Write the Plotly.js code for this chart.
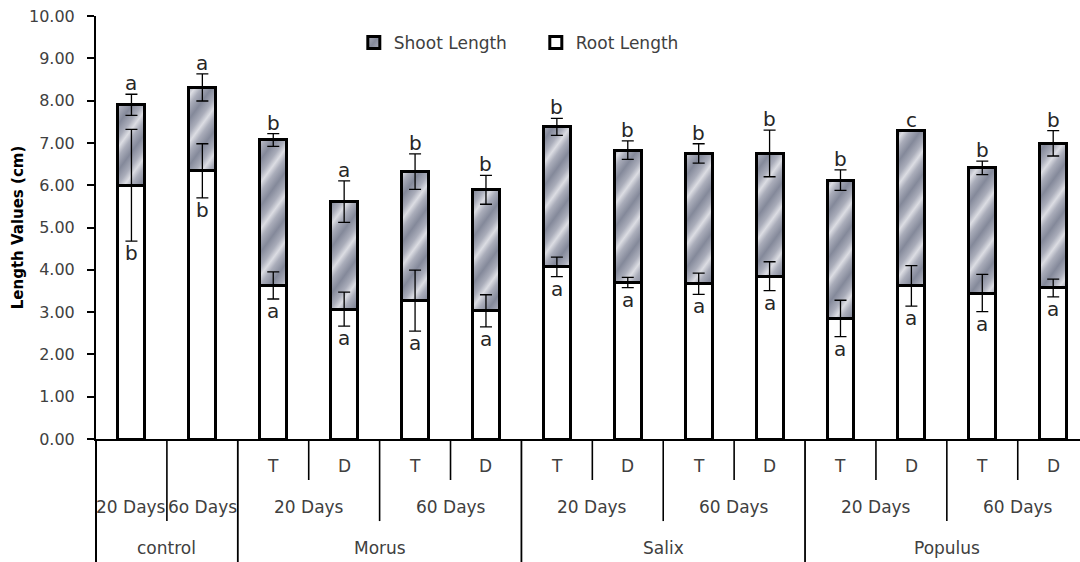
<!DOCTYPE html>
<html>
<head>
<meta charset="utf-8">
<script src="https://cdn.plot.ly/plotly-3.0.1.min.js"></script>
<style>
html,body{margin:0;padding:0;background:#fff;}
#chart{width:1080px;height:562px;}
</style>
</head>
<body>
<svg width="0" height="0" style="position:absolute;left:0;top:0;">
  <defs>
    <linearGradient id="shootGrad" gradientUnits="userSpaceOnUse" x1="0" y1="0" x2="22" y2="16" spreadMethod="reflect">
      <stop offset="0" stop-color="rgb(132,137,154)"/>
      <stop offset="0.3" stop-color="rgb(170,173,186)"/>
      <stop offset="0.5" stop-color="rgb(220,221,227)"/>
      <stop offset="0.7" stop-color="rgb(170,173,186)"/>
      <stop offset="1" stop-color="rgb(132,137,154)"/>
    </linearGradient>
  </defs>
</svg>
<div id="chart"></div>
<script>
// ---- data ----
const categories = [
  'control 20 Days', 'control 6o Days',
  'Morus 20 Days T', 'Morus 20 Days D', 'Morus 60 Days T', 'Morus 60 Days D',
  'Salix 20 Days T', 'Salix 20 Days D', 'Salix 60 Days T', 'Salix 60 Days D',
  'Populus 20 Days T', 'Populus 20 Days D', 'Populus 60 Days T', 'Populus 60 Days D'
];
const rootLength  = [6.00, 6.34, 3.63, 3.07, 3.27, 3.03, 4.07, 3.70, 3.67, 3.85, 2.85, 3.62, 3.45, 3.57];
const shootLength = [1.90, 1.97, 3.44, 2.54, 3.05, 2.86, 3.31, 3.13, 3.08, 2.90, 3.27, 3.67, 2.96, 3.42];
const rootErr     = [1.32, 0.64, 0.32, 0.40, 0.72, 0.38, 0.23, 0.12, 0.25, 0.34, 0.43, 0.48, 0.44, 0.21];
const shootErr    = [0.25, 0.32, 0.15, 0.49, 0.42, 0.34, 0.20, 0.22, 0.23, 0.55, 0.24, 0.00, 0.16, 0.30];
const shootLetters = ['a','a','b','a','b','b','b','b','b','b','b','c','b','b'];
const rootLetters  = ['b','b','a','a','a','a','a','a','a','a','a','a','a','a'];

const treatLabels = ['', '', 'T','D','T','D','T','D','T','D','T','D','T','D'];
const dayLabels   = ['20 Days','6o Days','20 Days','60 Days','20 Days','60 Days','20 Days','60 Days'];
const daySpans    = [[0,0],[1,1],[2,3],[4,5],[6,7],[8,9],[10,11],[12,13]];
const speciesLabels = ['control','Morus','Salix','Populus'];
const speciesSpans  = [[0,1],[2,5],[6,9],[10,13]];

// ---- style ----
const FONT = 'DejaVu Sans';
const TXT = '#404040';
const SHOOT_RGB = 'rgb(161, 165, 178)';
const Y_TD = -0.064, Y_DAY = -0.161, Y_SP = -0.258;
const B_TD = -0.097, B_DAY = -0.194, B_SP = -0.30;

const totals = rootLength.map((r, i) => r + shootLength[i]);

const traces = [
  {
    type: 'bar', name: 'Root Length', x: categories, y: rootLength,
    width: 0.38,
    marker: {color: '#ffffff', line: {color: '#000', width: 3}},
    hoverinfo: 'skip'
  },
  {
    type: 'bar', name: 'Shoot Length', x: categories, y: shootLength,
    width: 0.38,
    marker: {color: SHOOT_RGB, line: {color: '#000', width: 3}},
    hoverinfo: 'skip'
  },
  {
    type: 'scatter', mode: 'markers', x: categories, y: rootLength, showlegend: false,
    marker: {size: 1, color: 'rgba(0,0,0,0)'},
    error_y: {type: 'data', array: rootErr, visible: true, color: '#000', thickness: 1.3, width: 6},
    hoverinfo: 'skip'
  },
  {
    type: 'scatter', mode: 'markers', x: categories, y: totals, showlegend: false,
    marker: {size: 1, color: 'rgba(0,0,0,0)'},
    error_y: {type: 'data', array: shootErr, visible: true, color: '#000', thickness: 1.3, width: 6},
    hoverinfo: 'skip'
  }
];

const annotations = [];
const shapes = [];

// significance letters
categories.forEach((c, i) => {
  annotations.push({
    x: i, y: totals[i] + shootErr[i], xref: 'x', yref: 'y',
    text: shootLetters[i], showarrow: false, yanchor: 'bottom', yshift: -3,
    font: {family: FONT, size: 20, color: '#262626'}
  });
  annotations.push({
    x: i, y: rootLength[i] - rootErr[i], xref: 'x', yref: 'y',
    text: rootLetters[i], showarrow: false, yanchor: 'top', yshift: 2,
    font: {family: FONT, size: 20, color: '#262626'}
  });
});

// category axis labels
treatLabels.forEach((t, i) => {
  if (t) annotations.push({
    x: i, y: Y_TD, xref: 'x', yref: 'paper', yanchor: 'middle', text: t, showarrow: false,
    font: {family: FONT, size: 17, color: TXT}
  });
});
dayLabels.forEach((t, k) => {
  const [a, b] = daySpans[k];
  annotations.push({
    x: (a + b) / 2, y: Y_DAY, xref: 'x', yref: 'paper', yanchor: 'middle', text: t, showarrow: false,
    font: {family: FONT, size: 17, color: TXT}
  });
});
speciesLabels.forEach((t, k) => {
  const [a, b] = speciesSpans[k];
  annotations.push({
    x: (a + b) / 2, y: Y_SP, xref: 'x', yref: 'paper', yanchor: 'middle', text: t, showarrow: false,
    font: {family: FONT, size: 17, color: TXT}
  });
});

// divider lines
const vline = (x, y1, w, xref) => ({
  type: 'line', xref: xref || 'x', yref: 'paper', x0: x, x1: x, y0: 0, y1: y1,
  line: {color: '#000', width: w}
});
daySpans.forEach(([a, b]) => {
  for (let k = a; k < b; k++) shapes.push(vline(k + 0.5, B_TD, 1.6));
});
speciesSpans.forEach(([a, b], s) => {
  daySpans.forEach(([da, db]) => {
    if (da >= a && db < b) shapes.push(vline(db + 0.5, B_DAY, 1.6));
  });
  if (s < speciesSpans.length - 1) shapes.push(vline(b + 0.5, B_SP, 1.8));
});
shapes.push(vline(0, B_SP, 2, 'paper'));

const layout = {
  width: 1080, height: 562,
  margin: {l: 96, r: 0, t: 16, b: 123},
  paper_bgcolor: '#fff', plot_bgcolor: '#fff',
  barmode: 'stack',
  showlegend: true,
  legend: {
    orientation: 'h', traceorder: 'reversed',
    x: 0.262, xanchor: 'left', y: 0.936, yanchor: 'middle',
    font: {family: FONT, size: 17, color: TXT},
    entrywidth: 137, entrywidthmode: 'pixels',
    bgcolor: 'rgba(0,0,0,0)'
  },
  xaxis: {
    type: 'category', range: [-0.5, 13.378],
    showline: true, linecolor: '#000', linewidth: 2,
    ticks: '', showticklabels: false, showgrid: false, zeroline: false, fixedrange: true
  },
  yaxis: {
    range: [0, 10], dtick: 1, tick0: 0, tickformat: '.2f',
    showline: true, linecolor: '#000', linewidth: 2,
    ticks: 'outside', ticklen: 7, tickwidth: 2, tickcolor: '#000',
    ticklabelstandoff: 9,
    showgrid: false, zeroline: false, fixedrange: true,
    tickfont: {family: FONT, size: 16, color: TXT},
    title: {text: 'Length Values (cm)', standoff: 2,
            font: {family: FONT, size: 15, color: '#000', weight: 700}}
  },
  annotations: annotations,
  shapes: shapes
};

function applyGradient() {
  const gd = document.getElementById('chart');
  gd.querySelectorAll('path').forEach(p => {
    if (p.style.fill === SHOOT_RGB) p.style.fill = 'url(#shootGrad)';
  });
}

Plotly.newPlot('chart', traces, layout, {displayModeBar: false, staticPlot: true}).then(gd => {
  applyGradient();
  gd.on && gd.on('plotly_afterplot', applyGradient);
});
</script>
</body>
</html>
